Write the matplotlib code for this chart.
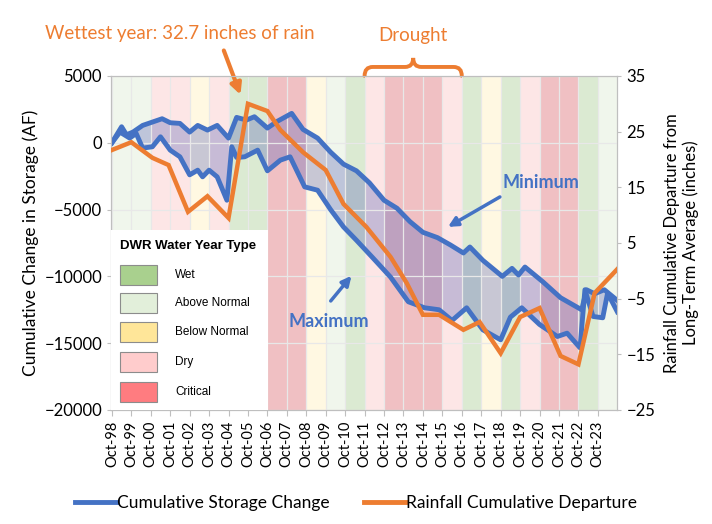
import numpy as np
import matplotlib
matplotlib.use("Agg")
import matplotlib.pyplot as plt
from matplotlib.patches import Rectangle, PathPatch
from matplotlib.path import Path
from matplotlib.lines import Line2D
import matplotlib.transforms as mtransforms

plt.rcParams['font.family'] = ['Lato', 'DejaVu Sans']

# months counted from Oct-1998
year_types = ['Above Normal', 'Above Normal', 'Dry', 'Dry', 'Below Normal', 'Dry',
              'Wet', 'Wet', 'Critical', 'Critical', 'Below Normal', 'Above Normal',
              'Wet', 'Dry', 'Critical', 'Critical', 'Critical', 'Dry', 'Wet',
              'Below Normal', 'Wet', 'Dry', 'Critical', 'Critical', 'Wet', 'Above Normal']
type_names = ['Wet', 'Above Normal', 'Below Normal', 'Dry', 'Critical']
type_colors = ['#a9d08e', '#e2efda', '#ffe699', '#ffcccc', '#ff7c80']
band_colors = ['#dbead2', '#f0f6ec', '#fff8e2', '#fde6e6', '#f0c0c3']

tick_labels = ['Oct-%02d' % (y % 100) for y in range(1998, 2024)]

# upper storage line ("Minimum")
min_month = [0, 6, 9, 13, 19, 25, 31, 36, 42, 48, 53, 59, 65, 72, 77, 83, 88, 96, 102,
             111, 118, 127, 135, 143, 151, 159, 168, 176, 184, 192, 201, 209, 217, 221,
             229, 241, 247, 251, 255, 266, 277, 290, 293, 298, 304, 312]
min_af = [0, 1200, 600, 800, 1300, 1550, 1800, 1500, 1450, 800, 1300, 950, 1300, 350,
          1900, 1700, 1950, 1100, 1600, 2200, 1000, 350, -700, -1600, -2100, -3000,
          -4300, -4900, -5900, -6700, -7100, -7650, -8250, -7800, -8800, -10000, -9400,
          -9900, -9300, -10400, -11600, -12500, -11000, -11300, -11000, -11800]

# lower storage line ("Maximum")
max_month = [0, 5, 11, 15, 19, 25, 30, 36, 42, 48, 53, 56, 60, 65, 71, 74, 77, 82, 90,
             96, 104, 110, 119, 127, 135, 143, 151, 161, 172, 183, 193, 202, 210, 219,
             229, 240, 246, 253, 264, 275, 281, 289, 292, 297, 303, 306, 312]
max_af = [0, 800, 350, 700, -400, -300, 450, -550, -1050, -2400, -2050, -2550, -2050,
          -2550, -4300, -300, -1100, -1050, -550, -2100, -1300, -1050, -3300, -3550,
          -5000, -6300, -7300, -8600, -10050, -11900, -12350, -12500, -13300, -12350,
          -14000, -14750, -13050, -12350, -13600, -14500, -14250, -15350, -11000,
          -13000, -13100, -11250, -12650]

# rainfall cumulative departure (inches)
rain_month = [0, 12, 25, 35, 47, 59, 72, 84, 96, 104, 118, 132, 143, 157, 172, 182, 192,
              202, 217, 227, 240, 252, 264, 277, 288, 298, 312]
rain_in = [21.7, 23.1, 20.3, 19.0, 10.6, 13.4, 9.5, 30.0, 28.7, 25.3, 21.3, 18.1, 12.0,
           7.9, 2.5, -2.2, -7.9, -7.9, -10.6, -9.2, -14.8, -8.3, -6.7, -15.3, -16.8,
           -4.0, 0.3]

blue = '#4472c4'
orange = '#ed7d31'

fig = plt.figure(figsize=(7.12, 5.24), dpi=100)
ax = fig.add_axes([0.156, 0.2176, 0.711, 0.6374])
ax2 = ax.twinx()

# water year bands
for i, t in enumerate(year_types):
    c = band_colors[type_names.index(t)]
    ax.axvspan(i * 12, (i + 1) * 12, color=c, lw=0, zorder=0)

ax.set_xlim(-0.5, 312)
ax.set_ylim(-20000, 5000)
ax.set_yticks(np.arange(-20000, 5001, 5000))
ax.set_xticks(np.arange(0, 312, 12))
ax.set_xticklabels(tick_labels, rotation=90, fontsize=10.5)
ax.tick_params(axis='y', labelsize=12, length=3, color='#bfbfbf')
ax.tick_params(axis='x', length=4, color='#bfbfbf')
ax.grid(True, color='#e8e8e8', lw=0.9, zorder=1)
ax.set_axisbelow(False)
for s in ax.spines.values():
    s.set_color('#bfbfbf')
for s in ax2.spines.values():
    s.set_color('#bfbfbf')
ax.set_ylabel('Cumulative Change in Storage (AF)', fontsize=12.5, labelpad=4)

ax.fill(np.concatenate([min_month, max_month[::-1]]),
        np.concatenate([min_af, max_af[::-1]]),
        color='#5a64b8', alpha=0.33, lw=0, zorder=2)
ax.plot(min_month, min_af, color=blue, lw=3.5, zorder=3, solid_joinstyle='round')
ax.plot(max_month, max_af, color=blue, lw=3.5, zorder=3, solid_joinstyle='round')

ax2.plot(rain_month, rain_in, color=orange, lw=3.2, zorder=3, solid_joinstyle='miter')
ax2.set_ylim(-25, 35)
ax2.set_yticks(np.arange(-25, 36, 10))
ax2.tick_params(axis='y', labelsize=12, length=3, color='#bfbfbf')
ax2.set_ylabel('Rainfall Cumulative Departure from\nLong-Term Average (inches)',
               fontsize=12, labelpad=6)

# annotations
ax.text(42, 8200, 'Wettest year: 32.7 inches of rain', color=orange, fontsize=13.5,
        ha='center', va='center', clip_on=False)
ax.annotate('', xy=(80, 3400), xytext=(68.5, 7100), annotation_clip=False,
            arrowprops=dict(arrowstyle='-|>', color=orange, lw=3, mutation_scale=16))
ax.text(186, 8050, 'Drought', color=orange, fontsize=13.5, ha='center', va='center',
        clip_on=False)

# brace over the drought years
trans = mtransforms.blended_transform_factory(ax.transData, ax.transAxes)
x0, x1 = 156, 216
xm = (x0 + x1) / 2
d = 5
verts = [(x0, 1.0), (x0, 1.027), (x0 + d, 1.027), (xm - d, 1.027), (xm, 1.027),
         (xm, 1.054), (xm, 1.027), (xm + d, 1.027), (x1 - d, 1.027), (x1, 1.027),
         (x1, 1.0)]
codes = [Path.MOVETO, Path.CURVE3, Path.CURVE3, Path.LINETO, Path.CURVE3, Path.CURVE3,
         Path.CURVE3, Path.CURVE3, Path.LINETO, Path.CURVE3, Path.CURVE3]
ax.add_patch(PathPatch(Path(verts, codes), fill=False, ec=orange, lw=2.8,
                       transform=trans, clip_on=False, capstyle='round'))

ax.text(265, -3000, 'Minimum', color=blue, fontsize=13, fontweight='bold',
        ha='center', va='center')
ax.annotate('', xy=(206, -6400), xytext=(241, -3950),
            arrowprops=dict(arrowstyle='-|>', color=blue, lw=2.5, mutation_scale=14))
ax.text(134, -13400, 'Maximum', color=blue, fontsize=13, fontweight='bold',
        ha='center', va='center')
ax.annotate('', xy=(149, -9800), xytext=(134, -12000),
            arrowprops=dict(arrowstyle='-|>', color=blue, lw=2.5, mutation_scale=14))

# water year type key
ax2.add_patch(Rectangle((0, 0), 0.31, 0.539, transform=ax2.transAxes, fc='white',
                        ec='none', zorder=5))
ax2.text(0.018, 0.491, 'DWR Water Year Type', transform=ax2.transAxes, fontsize=9.5,
         fontweight='bold', family='Liberation Sans', va='center', zorder=6)
key_y = [275, 303, 332, 362, 392]
for name, c, py in zip(type_names, type_colors, key_y):
    yc = (410 - py) / 334
    ax2.add_patch(Rectangle((0.0178, yc - 0.03), 0.073, 0.06, transform=ax2.transAxes,
                            fc=c, ec='#8c8c8c', lw=0.8, zorder=6))
    ax2.text(0.1265, yc, name, transform=ax2.transAxes, fontsize=8.5,
             family='Liberation Sans', va='center', zorder=6)

handles = [Line2D([], [], color=blue, lw=3.5), Line2D([], [], color=orange, lw=3.5)]
fig.legend(handles, ['Cumulative Storage Change', 'Rainfall Cumulative Departure'],
           loc='center', bbox_to_anchor=(0.5, 0.04), ncol=2, frameon=False,
           fontsize=12.5, handlelength=2.4, handletextpad=0.0, columnspacing=2.0)

fig.savefig('out.png', dpi=100)
